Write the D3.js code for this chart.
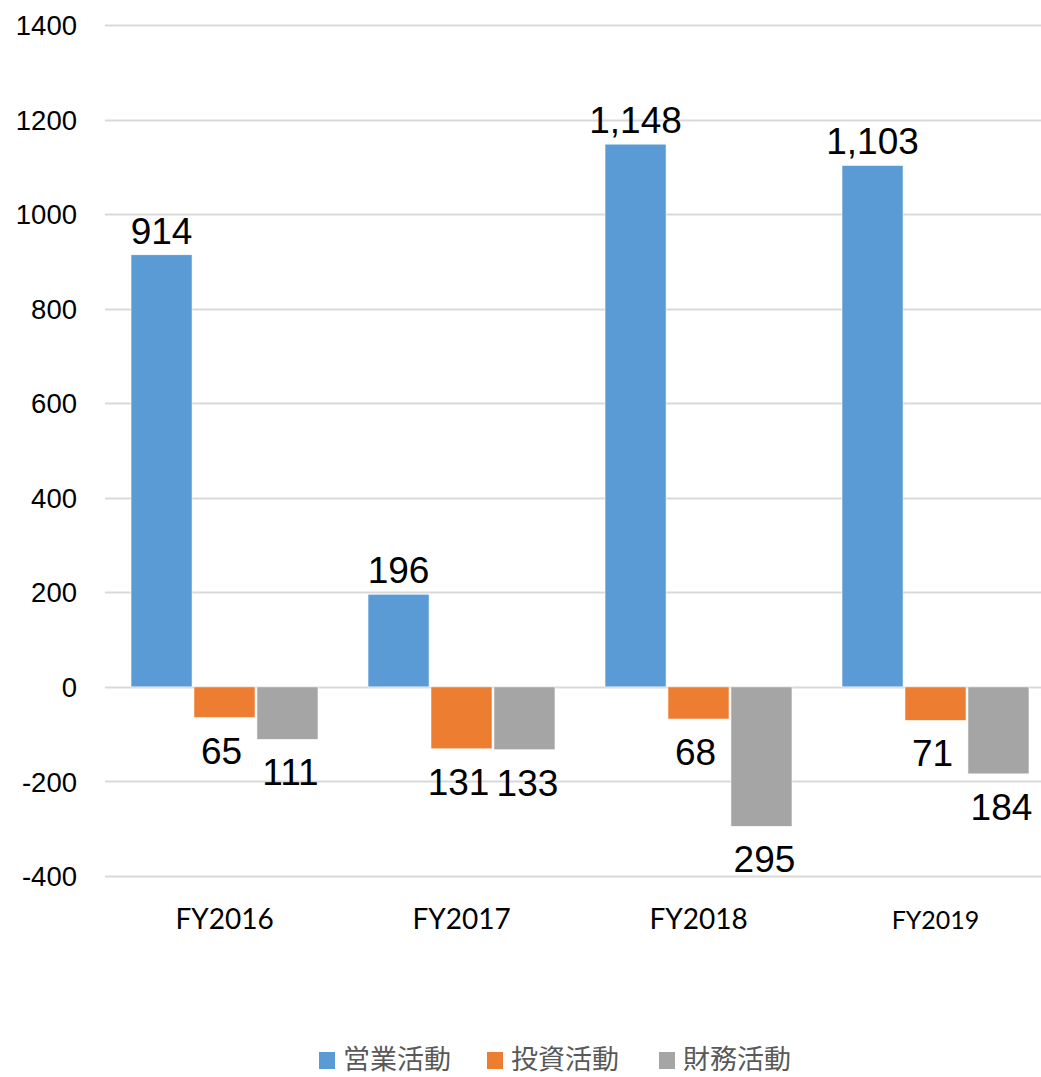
<!DOCTYPE html>
<html>
<head>
<meta charset="utf-8">
<script src="https://cdn.jsdelivr.net/npm/d3@7"></script>
<style>
html,body{margin:0;padding:0;background:#fff;}
svg{display:block;}
</style>
</head>
<body>
<svg id="chart" width="1041" height="1077"></svg>
<script>
const categories = ["FY2016", "FY2017", "FY2018", "FY2019"];
const seriesNames = ["営業活動", "投資活動", "財務活動"];
const operating = [914, 196, 1148, 1103];
const investing = [-65, -131, -68, -71];
const financing = [-111, -133, -295, -184];
const yTicks = [-400, -200, 0, 200, 400, 600, 800, 1000, 1200, 1400];
const colors = ["#5B9BD5", "#ED7D31", "#A5A5A5"];

const svg = d3.select("#chart");
const W = 1041;

const y = d3.scaleLinear().domain([-400, 1400]).range([876, 25]);
const x0 = d3.scaleBand().domain(categories).range([106, 1054]).paddingInner(0.211).paddingOuter(0.1055);
const x1 = d3.scaleBand().domain(seriesNames).range([0, x0.bandwidth()]).paddingInner(0.03);

// gridlines
svg.append("g").selectAll("line").data(yTicks).join("line")
  .attr("x1", 105).attr("x2", W)
  .attr("y1", d => Math.round(y(d)) + 0.5).attr("y2", d => Math.round(y(d)) + 0.5)
  .attr("stroke", "#D9D9D9").attr("stroke-width", 2);

// y axis labels
const yAxis = d3.axisLeft(y).tickValues(yTicks).tickSize(0).tickPadding(0).tickFormat(d => String(d));
const ya = svg.append("g").attr("transform", "translate(77,0)").call(yAxis);
ya.select(".domain").remove();
ya.selectAll("text").attr("font-family", "Liberation Sans, Arial, sans-serif").attr("font-size", 27.5).attr("fill", "#000").attr("dy", "0.35em");

// data table
const table = categories.map((c, i) => ({cat: c, vals: [operating[i], investing[i], financing[i]]}));

const groups = svg.append("g").selectAll("g").data(table).join("g")
  .attr("transform", d => `translate(${x0(d.cat)},0)`);

groups.selectAll("rect").data(d => d.vals.map((v, j) => ({v, s: seriesNames[j], j}))).join("rect")
  .attr("x", d => x1(d.s))
  .attr("width", x1.bandwidth())
  .attr("y", d => y(Math.max(0, d.v)))
  .attr("height", d => Math.abs(y(d.v) - y(0)))
  .attr("fill", d => colors[d.j])
  .attr("stroke", "#fff").attr("stroke-width", 0.6);

const fmt = d3.format(",");
const labelNudge = [0, -3, 3];
groups.selectAll("text").data(d => d.vals.map((v, j) => ({v, s: seriesNames[j], j}))).join("text")
  .attr("x", d => x1(d.s) + x1.bandwidth() / 2 + labelNudge[d.j])
  .attr("y", d => d.v >= 0 ? y(d.v) - 11 : y(d.v) + 46)
  .attr("text-anchor", "middle")
  .attr("font-family", "Liberation Sans, Arial, sans-serif")
  .attr("font-size", 37)
  .attr("fill", "#000")
  .text(d => fmt(Math.abs(d.v)));

// x axis labels
const xAxis = d3.axisBottom(x0).tickSize(0).tickPadding(0);
const xa = svg.append("g").attr("transform", "translate(0,929)").call(xAxis);
xa.select(".domain").remove();
xa.selectAll("text")
  .attr("dy", 0)
  .attr("font-family", "Lato, Carlito, Calibri, sans-serif")
  .attr("font-size", d => d === "FY2019" ? 25 : 28)
  .attr("fill", "#000");

// legend
const legX = [319, 487, 659];
const leg = svg.append("g").selectAll("g").data(seriesNames).join("g")
  .attr("transform", (d, i) => `translate(${legX[i]},1052)`);
leg.append("rect").attr("width", 16).attr("height", 17).attr("fill", (d, i) => colors[i]);
leg.append("text").attr("x", 24).attr("y", 17)
  .attr("font-family", "Noto Sans CJK JP, sans-serif").attr("font-size", 27)
  .attr("fill", "#595959").text(d => d);
</script>
</body>
</html>
